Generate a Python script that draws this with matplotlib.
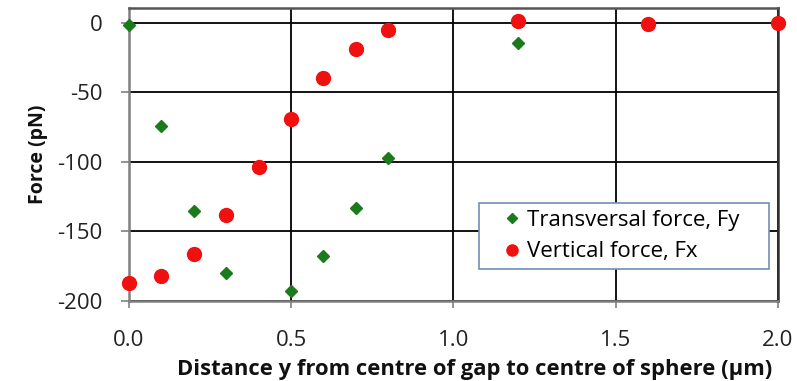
import matplotlib
matplotlib.use("Agg")
import matplotlib.pyplot as plt

plt.rcParams['font.family'] = ['Open Sans', 'DejaVu Sans']

# Transversal force Fy
fy_x = [0.0, 0.1, 0.2, 0.3, 0.5, 0.6, 0.7, 0.8, 1.2]
fy_y = [-2, -74, -135, -180, -193, -168, -133, -97, -15]

# Vertical force Fx
fx_x = [0.0, 0.1, 0.2, 0.3, 0.4, 0.5, 0.6, 0.7, 0.8, 1.2, 1.6, 2.0]
fx_y = [-187, -182, -166, -138, -104, -69, -40, -19, -5, 1, -1, 0]

x_ticks = [0.0, 0.5, 1.0, 1.5, 2.0]
y_ticks = [-200, -150, -100, -50, 0]

fig = plt.figure(figsize=(7.97, 3.81), dpi=100)
ax = fig.add_axes([0.1615, 0.210, 0.8145, 0.769])

ax.plot(fy_x, fy_y, linestyle='none', marker='D', markersize=6.5,
        color='#1b7a1b', label='Transversal force, Fy', clip_on=False, zorder=3)
ax.plot(fx_x, fx_y, linestyle='none', marker='o', markersize=10,
        color='#f01010', label='Vertical force, Fx', clip_on=False, zorder=3)

ax.set_xlim(0, 2.0)
ax.set_ylim(-200, 10.5)
ax.set_xticks(x_ticks)
ax.set_xticklabels([f"{v:.1f}" for v in x_ticks])
ax.set_yticks(y_ticks)
ax.set_yticklabels([str(v) for v in y_ticks])

ax.grid(True, color='black', linewidth=1.3)
ax.set_axisbelow(True)
for s in ax.spines.values():
    s.set_color('#7f7f7f')
    s.set_linewidth(1.8)
ax.spines['top'].set_color('#555555')
ax.spines['right'].set_color('#333333')

ax.tick_params(axis='both', direction='out', width=1.3,
               color='#8a8a8a', labelsize=16, labelcolor='#222222')
ax.tick_params(axis='x', length=5, pad=16)
ax.tick_params(axis='y', length=6, pad=13)

ax.set_xlabel('Distance y from centre of gap to centre of sphere (µm)',
              fontsize=15.8, fontweight='bold', color='#111111', va='top')
ax.xaxis.set_label_coords(0.533, -0.198)
ax.set_ylabel('Force (pN)', fontsize=14, fontweight='bold', color='#111111')
ax.yaxis.set_label_coords(-0.124, 0.5)

leg = ax.legend(loc='upper left', bbox_to_anchor=(0.539, 0.334, 0.447, 0.0),
                mode='expand', fontsize=16, frameon=True, fancybox=False,
                handletextpad=-0.5, handlelength=2.4, borderpad=0.3,
                labelspacing=0.48, borderaxespad=0, markerscale=0.8)
leg.get_frame().set_edgecolor('#6f8fb5')
leg.get_frame().set_linewidth(1.2)
leg.get_frame().set_alpha(1.0)

fig.savefig('out.png', dpi=100)
